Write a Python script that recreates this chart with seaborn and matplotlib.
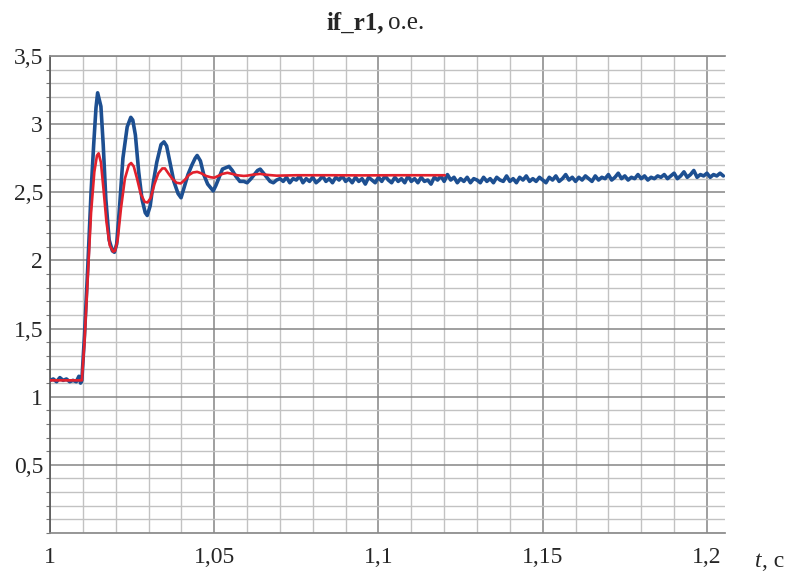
import numpy as np
import pandas as pd
import matplotlib
matplotlib.use("Agg")
import matplotlib.pyplot as plt
import seaborn as sns
from matplotlib.ticker import MultipleLocator, FixedLocator, FixedFormatter

# ---------------- data ----------------
blue_t_transient = [1.0000, 1.0010, 1.0020, 1.0030, 1.0040, 1.0050, 1.0060, 1.0070, 1.0080,
                    1.0088, 1.0093, 1.0097, 1.0105, 1.0115, 1.0125, 1.0133, 1.0140, 1.0145,
                    1.0150, 1.0155, 1.0162, 1.0170, 1.0180, 1.0190, 1.0196, 1.0203, 1.0212,
                    1.0222, 1.0235, 1.0246, 1.0252, 1.0260, 1.0270, 1.0280, 1.0290, 1.0296,
                    1.0305, 1.0315, 1.0325, 1.0338, 1.0347, 1.0355, 1.0365, 1.0377, 1.0390,
                    1.0399, 1.0410, 1.0420, 1.0432, 1.0442, 1.0448, 1.0458, 1.0468, 1.0480,
                    1.0490, 1.0497, 1.0505, 1.0515, 1.0525, 1.0535, 1.0545, 1.0555, 1.0565,
                    1.0578, 1.0590, 1.0600, 1.0612, 1.0622, 1.0632, 1.0640, 1.0650, 1.0660,
                    1.0670, 1.0680, 1.0690]
blue_v_transient = [1.12, 1.13, 1.11, 1.14, 1.12, 1.13, 1.11, 1.12, 1.11,
                    1.15, 1.10, 1.12, 1.45, 1.95, 2.50, 2.85, 3.12, 3.23,
                    3.18, 3.13, 2.85, 2.45, 2.15, 2.07, 2.06, 2.12, 2.40,
                    2.75, 2.98, 3.05, 3.03, 2.92, 2.65, 2.45, 2.35, 2.33,
                    2.40, 2.58, 2.72, 2.85, 2.87, 2.84, 2.72, 2.58, 2.49,
                    2.46, 2.55, 2.63, 2.70, 2.75, 2.77, 2.73, 2.63, 2.56,
                    2.53, 2.51, 2.55, 2.61, 2.67, 2.68, 2.69, 2.66, 2.62,
                    2.58, 2.58, 2.57, 2.60, 2.63, 2.66, 2.67, 2.64, 2.61,
                    2.58, 2.57, 2.59]

blue_t_steady = [
    1.070, 1.071, 1.072, 1.073, 1.074, 1.075, 1.076, 1.077, 1.078, 1.079,
    1.080, 1.081, 1.082, 1.083, 1.084, 1.085, 1.086, 1.087, 1.088, 1.089,
    1.090, 1.091, 1.092, 1.093, 1.094, 1.095, 1.096, 1.097, 1.098, 1.099,
    1.100, 1.101, 1.102, 1.103, 1.104, 1.105, 1.106, 1.107, 1.108, 1.109,
    1.110, 1.111, 1.112, 1.113, 1.114, 1.115, 1.116, 1.117, 1.118, 1.119,
    1.120, 1.121, 1.122, 1.123, 1.124, 1.125, 1.126, 1.127, 1.128, 1.129,
    1.130, 1.131, 1.132, 1.133, 1.134, 1.135, 1.136, 1.137, 1.138, 1.139,
    1.140, 1.141, 1.142, 1.143, 1.144, 1.145, 1.146, 1.147, 1.148, 1.149,
    1.150, 1.151, 1.152, 1.153, 1.154, 1.155, 1.156, 1.157, 1.158, 1.159,
    1.160, 1.161, 1.162, 1.163, 1.164, 1.165, 1.166, 1.167, 1.168, 1.169,
    1.170, 1.171, 1.172, 1.173, 1.174, 1.175, 1.176, 1.177, 1.178, 1.179,
    1.180, 1.181, 1.182, 1.183, 1.184, 1.185, 1.186, 1.187, 1.188, 1.189,
    1.190, 1.191, 1.192, 1.193, 1.194, 1.195, 1.196, 1.197, 1.198, 1.199,
    1.200, 1.201, 1.202, 1.203, 1.204, 1.205]
blue_v_steady = [
    2.60, 2.58, 2.61, 2.57, 2.60, 2.59, 2.62, 2.57, 2.60, 2.58,
    2.61, 2.57, 2.59, 2.62, 2.58, 2.60, 2.57, 2.61, 2.59, 2.62,
    2.58, 2.60, 2.57, 2.61, 2.58, 2.60, 2.56, 2.61, 2.59, 2.57,
    2.61, 2.58, 2.62, 2.59, 2.57, 2.61, 2.58, 2.60, 2.57, 2.62,
    2.58, 2.60, 2.57, 2.61, 2.58, 2.59, 2.56, 2.61, 2.59, 2.62,
    2.58, 2.63, 2.59, 2.61, 2.57, 2.60, 2.58, 2.61, 2.57, 2.60,
    2.59, 2.57, 2.61, 2.58, 2.60, 2.57, 2.61, 2.59, 2.58, 2.62,
    2.58, 2.60, 2.57, 2.61, 2.59, 2.62, 2.58, 2.60, 2.58, 2.61,
    2.59, 2.57, 2.61, 2.59, 2.62, 2.58, 2.60, 2.63, 2.59, 2.61,
    2.58, 2.61, 2.59, 2.62, 2.60, 2.58, 2.62, 2.59, 2.61, 2.60,
    2.63, 2.59, 2.61, 2.64, 2.60, 2.62, 2.59, 2.61, 2.60, 2.63,
    2.60, 2.62, 2.59, 2.61, 2.60, 2.62, 2.61, 2.63, 2.60, 2.62,
    2.64, 2.60, 2.62, 2.65, 2.61, 2.63, 2.66, 2.61, 2.63, 2.62,
    2.64, 2.61, 2.63, 2.62, 2.64, 2.62]

red_t = [1.0000, 1.0050, 1.0097, 1.0105, 1.0115, 1.0125, 1.0135, 1.0143, 1.0148, 1.0155,
         1.0163, 1.0172, 1.0182, 1.0192, 1.0198, 1.0206, 1.0216, 1.0228, 1.0240, 1.0247,
         1.0255, 1.0265, 1.0276, 1.0288, 1.0297, 1.0307, 1.0318, 1.0330, 1.0342, 1.0350,
         1.0360, 1.0372, 1.0385, 1.0398, 1.0410, 1.0422, 1.0435, 1.0448, 1.0460, 1.0475,
         1.0490, 1.0500, 1.0512, 1.0525, 1.0540, 1.0555, 1.0570, 1.0590, 1.0600, 1.0620,
         1.0640, 1.0660, 1.0690, 1.0750, 1.0850, 1.0950, 1.1050, 1.1150, 1.1202]
red_v = [1.12, 1.12, 1.12, 1.40, 1.88, 2.35, 2.65, 2.77, 2.786, 2.72,
         2.52, 2.28, 2.11, 2.065, 2.07, 2.15, 2.38, 2.60, 2.70, 2.715,
         2.69, 2.60, 2.49, 2.43, 2.425, 2.46, 2.56, 2.64, 2.675, 2.675,
         2.64, 2.60, 2.57, 2.565, 2.59, 2.625, 2.645, 2.65, 2.64, 2.62,
         2.61, 2.607, 2.62, 2.635, 2.643, 2.635, 2.625, 2.62, 2.622, 2.63,
         2.635, 2.628, 2.622, 2.625, 2.625, 2.624, 2.625, 2.625, 2.625]

x_ticks = [1.0, 1.05, 1.1, 1.15, 1.2]
x_labels = ["1", "1,05", "1,1", "1,15", "1,2"]
y_ticks = [0.5, 1.0, 1.5, 2.0, 2.5, 3.0, 3.5]
y_labels = ["0,5", "1", "1,5", "2", "2,5", "3", "3,5"]

# ---------------- figure ----------------
sns.set_theme(style="white")
plt.rcParams["font.family"] = ["Liberation Serif", "DejaVu Serif"]

W, H = 791, 572
fig = plt.figure(figsize=(W / 100, H / 100), dpi=100)
ax = fig.add_axes([50 / W, 1 - 533 / H, (725 - 50) / W, (533 - 56) / H])

blue_df = pd.DataFrame({"t": blue_t_transient + blue_t_steady,
                        "v": blue_v_transient + blue_v_steady})
red_df = pd.DataFrame({"t": red_t, "v": red_v})

sns.lineplot(data=blue_df, x="t", y="v", ax=ax, color="#1d4f91", lw=2.6,
             sort=False, estimator=None, zorder=3)
sns.lineplot(data=red_df, x="t", y="v", ax=ax, color="#e2202c", lw=1.9,
             sort=False, estimator=None, zorder=4)

ax.set_xlim(1.0, 1.2055)
ax.set_ylim(0, 3.5)

ax.xaxis.set_major_locator(FixedLocator(x_ticks))
ax.xaxis.set_major_formatter(FixedFormatter(x_labels))
ax.yaxis.set_major_locator(FixedLocator(y_ticks))
ax.yaxis.set_major_formatter(FixedFormatter(y_labels))
ax.xaxis.set_minor_locator(MultipleLocator(0.01))
ax.yaxis.set_minor_locator(MultipleLocator(0.1))

ax.grid(which="minor", color="#c2c2c2", lw=1.0)
ax.grid(which="major", color="#858585", lw=1.1)
ax.set_axisbelow(True)

ax.spines["right"].set_visible(False)
ax.spines["left"].set_color("#555555")
ax.spines["left"].set_linewidth(1.2)
ax.spines["top"].set_color("#8a8a8a")
ax.spines["bottom"].set_color("#8a8a8a")

ax.tick_params(axis="y", which="major", direction="out", length=3, width=1,
               color="#555555", labelsize=17, pad=2)
ax.tick_params(axis="y", which="minor", direction="out", length=3, width=0.8,
               color="#777777", left=True)
ax.tick_params(axis="x", which="major", direction="out", length=4, width=1,
               color="#777777", labelsize=17, pad=6)
ax.tick_params(axis="x", which="minor", length=0)
ax.set_xlabel("")
ax.set_ylabel("")

# title: bold part + regular part
fig.text(384 / W, 1 - 29 / H, "if_r1,", ha="right", va="baseline",
         fontsize=18, fontweight="bold")
fig.text(388 / W, 1 - 29 / H, "о.е.", ha="left", va="baseline", fontsize=18)

# axis label "t, c"
fig.text(755 / W, 1 - 567 / H, "t", ha="left", va="baseline", fontsize=17,
         fontstyle="italic")
fig.text(762 / W, 1 - 567 / H, ", c", ha="left", va="baseline", fontsize=17)

fig.savefig("out.png", dpi=100)
